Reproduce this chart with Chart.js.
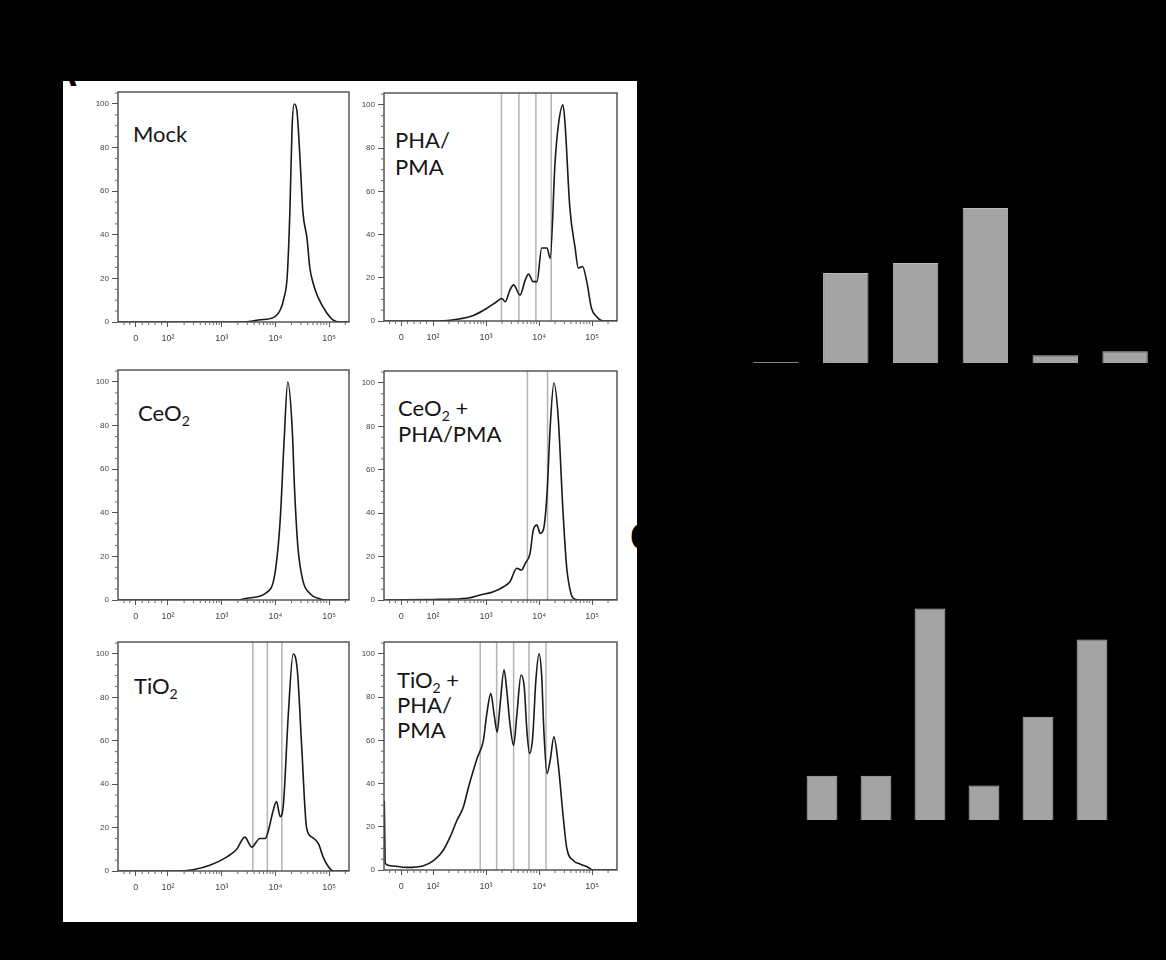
<!DOCTYPE html>
<html>
<head>
<meta charset="utf-8">
<title>Proliferation histograms</title>
<script src="https://cdn.jsdelivr.net/npm/chart.js@4.4.1/dist/chart.umd.min.js"></script>
<style>
  html, body { margin: 0; padding: 0; background: #000; }
  body { width: 1166px; height: 960px; position: relative; overflow: hidden; font-family: 'Lato', sans-serif; }
  .sheet { position: absolute; left: 63px; top: 81px; width: 574px; height: 841px; background: #fff; }
  .lbl { position: absolute; font: 22px 'Lato', sans-serif; color: #151515; white-space: nowrap; }
  .lbl sub { font-size: 14px; vertical-align: -5px; line-height: 0; }
  .dark { position: absolute; color: #000; font: 16px 'Liberation Sans', sans-serif; white-space: nowrap; }
  .dark sub { font-size: 11px; vertical-align: -3px; line-height: 0; }
  .letter { position: absolute; color: #000; font: bold 38px 'Liberation Sans', sans-serif; }
</style>
</head>
<body>
<div class="sheet"></div>

<div class="letter" style="left:50px;top:52px;">A</div>
<div class="letter" style="left:630px;top:516px;">C</div>

<div class="lbl" style="left:133px;top:120px;">Mock</div>
<div class="lbl" style="left:395px;top:126px;line-height:27px;">PHA/<br>PMA</div>
<div class="lbl" style="left:138px;top:399px;">CeO<sub>2</sub></div>
<div class="lbl" style="left:398px;top:395px;line-height:26px;">CeO<sub>2</sub> +<br>PHA/PMA</div>
<div class="lbl" style="left:134px;top:672px;">TiO<sub>2</sub></div>
<div class="lbl" style="left:397px;top:667px;line-height:25px;">TiO<sub>2</sub> +<br>PHA/<br>PMA</div>

<div class="dark" style="left:918px;top:442px;font-size:20px;text-align:center;line-height:34px;">CeO<sub>2</sub><br>(μM)</div>
<div class="dark" style="left:1055px;top:442px;font-size:20px;text-align:center;line-height:34px;">TiO<sub>2</sub><br>(μM)</div>

<div class="dark" style="right:363px;top:838px;">CeO<sub>2</sub> (μM)</div>
<div class="dark" style="right:363px;top:876px;">TiO<sub>2</sub> (μM)</div>
<div class="dark" style="right:363px;top:915px;">PHA/PMA</div>

<script>
// Histogram x values are in decade units of the biexponential axis (2 = 10^2, 3 = 10^3, ...)
const xTickValues = [1.40, 2, 3, 4, 5];
const xTickLabels = ['0', '10²', '10³', '10⁴', '10⁵'];
const yTickValues = [0, 20, 40, 60, 80, 100];
const yTickLabels = ['0', '20', '40', '60', '80', '100'];
const xLinearMinor = [1.18, 1.29, 1.52, 1.64, 1.76, 1.88];

// % of max, per panel
const mockCurve = [
  [1.07, 0], [3.40, 0], [3.60, 0.5], [3.71, 1], [3.96, 2], [4.09, 5.5], [4.16, 11], [4.22, 21],
  [4.27, 51], [4.31, 89], [4.35, 100], [4.40, 97], [4.46, 74], [4.51, 51], [4.59, 38], [4.64, 25],
  [4.70, 18], [4.79, 11.5], [4.96, 4], [5.07, 1], [5.20, 0], [5.37, 0]
];
const phaCurve = [
  [1.08, 0], [2.13, 0], [2.45, 0.8], [2.76, 2.6], [3.01, 5.8], [3.20, 8.9], [3.30, 10.4], [3.36, 8.9],
  [3.45, 14.3], [3.52, 16.7], [3.64, 12], [3.74, 19], [3.80, 21.7], [3.89, 18.2], [3.96, 18.2],
  [4.05, 33.8], [4.15, 33.8], [4.21, 29], [4.30, 72.7], [4.36, 89.8], [4.45, 100], [4.49, 91.4],
  [4.58, 52.5], [4.68, 33.8], [4.74, 24.5], [4.82, 25.2], [4.90, 18.2], [4.99, 5.8], [5.09, 1.9],
  [5.21, 0], [5.47, 0]
];
const ceoCurve = [
  [1.07, 0], [3.30, 0], [3.47, 0.8], [3.84, 3.5], [3.99, 12], [4.09, 37], [4.16, 72], [4.23, 100],
  [4.31, 80], [4.36, 49], [4.42, 24], [4.51, 9], [4.64, 3], [4.83, 0.5], [4.96, 0], [5.37, 0]
];
const ceoPhaCurve = [
  [1.08, 0], [2.13, 0.3], [2.64, 0.8], [2.89, 2.3], [3.14, 3.8], [3.33, 6.1], [3.45, 8.4], [3.58, 14.6],
  [3.67, 13.8], [3.74, 16.9], [3.83, 21.5], [3.89, 32.2], [3.96, 34.5], [4.02, 30.7], [4.08, 32.2],
  [4.15, 49], [4.21, 79.8], [4.28, 100], [4.36, 84.4], [4.45, 41.4], [4.52, 15.3], [4.60, 3.1],
  [4.68, 0.3], [4.77, 0], [5.47, 0]
];
const tioCurve = [
  [1.07, 0], [2.16, 0], [2.47, 0.6], [2.78, 2.6], [3.09, 6.4], [3.28, 10], [3.43, 15.6], [3.56, 11],
  [3.71, 15], [3.81, 15], [3.87, 18.7], [3.96, 28], [4.02, 32], [4.09, 25], [4.15, 31], [4.24, 72],
  [4.33, 100], [4.41, 92], [4.49, 57], [4.58, 20], [4.68, 15.6], [4.80, 12.6], [4.89, 6.4],
  [4.99, 1.8], [5.08, 0], [5.37, 0]
];
const tioPhaCurve = [
  [1.08, 32], [1.10, 3], [1.19, 2], [1.50, 1.2], [1.82, 2], [2.01, 4.3], [2.19, 9], [2.32, 15.2],
  [2.45, 22.9], [2.57, 29], [2.67, 38.4], [2.76, 46], [2.84, 52.3], [2.87, 54], [2.95, 60], [3.01, 71.5],
  [3.09, 81.6], [3.15, 72.4], [3.21, 63.8], [3.26, 75.2], [3.34, 92.6], [3.39, 83.3], [3.45, 67.8],
  [3.52, 57.7], [3.58, 71.5], [3.66, 90.2], [3.72, 84.8], [3.77, 64.7], [3.82, 53.9], [3.88, 61.6],
  [3.94, 87.9], [4.00, 100], [4.05, 89.5], [4.09, 64.7], [4.15, 44.6], [4.21, 50.8], [4.28, 61.6],
  [4.36, 49.2], [4.45, 26], [4.52, 10.5], [4.65, 4.3], [4.77, 2.8], [4.93, 1.2], [5.02, 0], [5.47, 0]
];

// division gates
const phaGates = [3.29, 3.62, 3.94, 4.23];
const ceoPhaGates = [3.78, 4.16];
const tioGates = [3.58, 3.85, 4.12];
const tioPhaGates = [2.89, 3.20, 3.52, 3.81, 4.13];

// proliferation bar chart
const prolifLabels = ['control', 'PHA/PMA', '10', '1', '10', '1'];
const prolifValues = [0.1, 8.0, 8.9, 13.8, 0.7, 1.05];
const prolifTicks = [0, 5, 10, 15, 20, 25];

// IL-2 bar chart and its condition table
const il2Values = [2700, 2700, 12900, 2100, 6300, 11000];
const il2Ticks = [0, 5000, 10000, 15000, 20000];
const il2TickLabels = ['0', '5.0x10³', '1.0x10⁴', '1.5x10⁴', '2.0x10⁴'];
const ceoRow = ['-', '-', '-', '1', '1', '-'];
const tioRow = ['-', '1', '10', '-', '-', '-'];
const phaRow = ['-', '-', '+', '-', '+', '+'];

// minor tick positions on the log decades
const xLogMinor = [];
[2, 3, 4, 5].forEach(k => {
  for (let m = 2; m <= 9; m++) {
    if (k === 5 && m > 2) break;
    xLogMinor.push(k + Math.log10(m));
  }
});
const xMinorTicks = xLinearMinor.concat(xLogMinor);
const yMinorTicks = [];
for (let v = 5; v <= 105; v += 5) if (v % 20) yMinorTicks.push(v);

const gatePlugin = {
  id: 'gates',
  beforeDatasetsDraw(chart, args, opts) {
    const { ctx, chartArea: a, scales: { x } } = chart;
    ctx.save();
    ctx.strokeStyle = '#b3b3b3';
    ctx.lineWidth = 1.5;
    (opts.values || []).forEach(v => {
      const px = x.getPixelForValue(v);
      ctx.beginPath();
      ctx.moveTo(px, a.top);
      ctx.lineTo(px, a.bottom);
      ctx.stroke();
    });
    ctx.restore();
  }
};

const framePlugin = {
  id: 'frame',
  afterDraw(chart) {
    const { ctx, chartArea: a, scales: { x, y } } = chart;
    ctx.save();
    ctx.strokeStyle = '#4a4a4a';
    ctx.lineWidth = 1.4;
    ctx.strokeRect(a.left, a.top, a.right - a.left, a.bottom - a.top);
    ctx.lineWidth = 1;
    ctx.strokeStyle = '#666';
    ctx.beginPath();
    xMinorTicks.forEach(v => {
      const px = x.getPixelForValue(v);
      if (px < a.left || px > a.right) return;
      ctx.moveTo(px, a.bottom);
      ctx.lineTo(px, a.bottom + 3);
    });
    yMinorTicks.forEach(v => {
      const py = y.getPixelForValue(v);
      if (py < a.top) return;
      ctx.moveTo(a.left - 3, py);
      ctx.lineTo(a.left, py);
    });
    ctx.stroke();
    ctx.restore();
  }
};

const panels = [
  { curve: mockCurve, gates: [], box: [118, 92, 349, 322], xr: [1.07, 5.37] },
  { curve: phaCurve, gates: phaGates, box: [384, 93, 617, 321], xr: [1.075, 5.47] },
  { curve: ceoCurve, gates: [], box: [118, 370, 349, 600], xr: [1.07, 5.37] },
  { curve: ceoPhaCurve, gates: ceoPhaGates, box: [384, 371, 617, 600], xr: [1.075, 5.47] },
  { curve: tioCurve, gates: tioGates, box: [118, 642, 349, 871], xr: [1.07, 5.37] },
  { curve: tioPhaCurve, gates: tioPhaGates, box: [384, 642, 617, 870], xr: [1.075, 5.47] }
];

function addCanvas(left, top, w, h) {
  const c = document.createElement('canvas');
  c.width = w;
  c.height = h;
  c.style.cssText = `position:absolute;left:${left}px;top:${top}px;width:${w}px;height:${h}px;`;
  document.body.appendChild(c);
  return c;
}

function makeHistogram(p) {
  const padL = 52, padT = 8, padR = 8, padB = 36;
  const [l, t, r, b] = p.box;
  const canvas = addCanvas(l - padL, t - padT, r - l + padL + padR, b - t + padT + padB);
  const tickFont = { family: 'Liberation Sans', size: 8 };
  new Chart(canvas, {
    type: 'line',
    data: {
      datasets: [{
        data: p.curve,
        borderColor: '#1a1a1a',
        borderWidth: 1.6,
        pointRadius: 0,
        cubicInterpolationMode: 'monotone',
        fill: false
      }]
    },
    options: {
      responsive: false,
      animation: false,
      events: [],
      layout: { padding: { top: padT, right: padR, left: 0, bottom: 0 } },
      plugins: { legend: { display: false }, tooltip: { enabled: false }, gates: { values: p.gates } },
      scales: {
        x: {
          type: 'linear',
          min: p.xr[0],
          max: p.xr[1],
          afterBuildTicks: s => { s.ticks = xTickValues.map(v => ({ value: v })); },
          afterFit: s => { s.height = padB; },
          ticks: {
            callback: (v, i) => xTickLabels[i],
            font: { family: 'Liberation Sans', size: 9 },
            color: '#444',
            padding: 6,
            maxRotation: 0,
            autoSkip: false
          },
          grid: { drawOnChartArea: false, drawTicks: true, tickLength: 5, color: '#555' },
          border: { display: false }
        },
        y: {
          min: 0,
          max: 105.5,
          afterBuildTicks: s => { s.ticks = yTickValues.map(v => ({ value: v })); },
          afterFit: s => { s.width = padL; },
          ticks: {
            callback: (v, i) => yTickLabels[i],
            font: tickFont,
            color: '#444',
            padding: 3,
            autoSkip: false
          },
          grid: { drawOnChartArea: false, drawTicks: true, tickLength: 6, color: '#555' },
          border: { display: false }
        }
      }
    },
    plugins: [gatePlugin, framePlugin]
  });
}

panels.forEach(makeHistogram);

const barFill = '#a4a4a4';
const barEdge = '#bababa';

// proliferation bars
(function () {
  const canvas = addCanvas(641, 60, 525, 440);
  new Chart(canvas, {
    type: 'bar',
    data: {
      labels: prolifLabels,
      datasets: [{
        data: prolifValues,
        backgroundColor: barFill,
        borderColor: barEdge,
        borderWidth: 1,
        categoryPercentage: 1,
        barPercentage: 0.65
      }]
    },
    options: {
      responsive: false,
      animation: false,
      events: [],
      layout: { padding: { top: 22, right: 6 } },
      plugins: { legend: { display: false }, tooltip: { enabled: false } },
      scales: {
        x: {
          afterFit: s => { s.height = 137; },
          ticks: { color: '#000', font: { family: 'Liberation Sans', size: 15 }, minRotation: 45, maxRotation: 45 },
          grid: { display: false },
          border: { color: '#000' }
        },
        y: {
          min: 0,
          max: 25,
          afterBuildTicks: s => { s.ticks = prolifTicks.map(v => ({ value: v })); },
          afterFit: s => { s.width = 100; },
          ticks: { color: '#000', font: { family: 'Liberation Sans', size: 15 } },
          grid: { display: false },
          border: { color: '#000' }
        }
      }
    }
  });
})();

// IL-2 bars
(function () {
  const canvas = addCanvas(650, 470, 516, 490);
  new Chart(canvas, {
    type: 'bar',
    data: {
      labels: il2Values.map((v, i) => [ceoRow[i], tioRow[i], phaRow[i]]),
      datasets: [{
        data: il2Values,
        backgroundColor: barFill,
        borderColor: barEdge,
        borderWidth: 1,
        categoryPercentage: 1,
        barPercentage: 0.57
      }]
    },
    options: {
      responsive: false,
      animation: false,
      events: [],
      layout: { padding: { top: 22, right: 47 } },
      plugins: { legend: { display: false }, tooltip: { enabled: false } },
      scales: {
        x: {
          afterFit: s => { s.height = 140; },
          ticks: { color: '#000', font: { family: 'Liberation Sans', size: 15, lineHeight: 2.55 }, padding: 6, maxRotation: 0 },
          grid: { display: false, drawTicks: false },
          border: { color: '#000' }
        },
        y: {
          min: 0,
          max: 20000,
          afterBuildTicks: s => { s.ticks = il2Ticks.map(v => ({ value: v })); },
          afterFit: s => { s.width = 145; },
          ticks: { color: '#000', font: { family: 'Liberation Sans', size: 15 }, callback: (v, i) => il2TickLabels[i] },
          grid: { display: false },
          border: { color: '#000' }
        }
      }
    }
  });
})();
</script>
</body>
</html>
